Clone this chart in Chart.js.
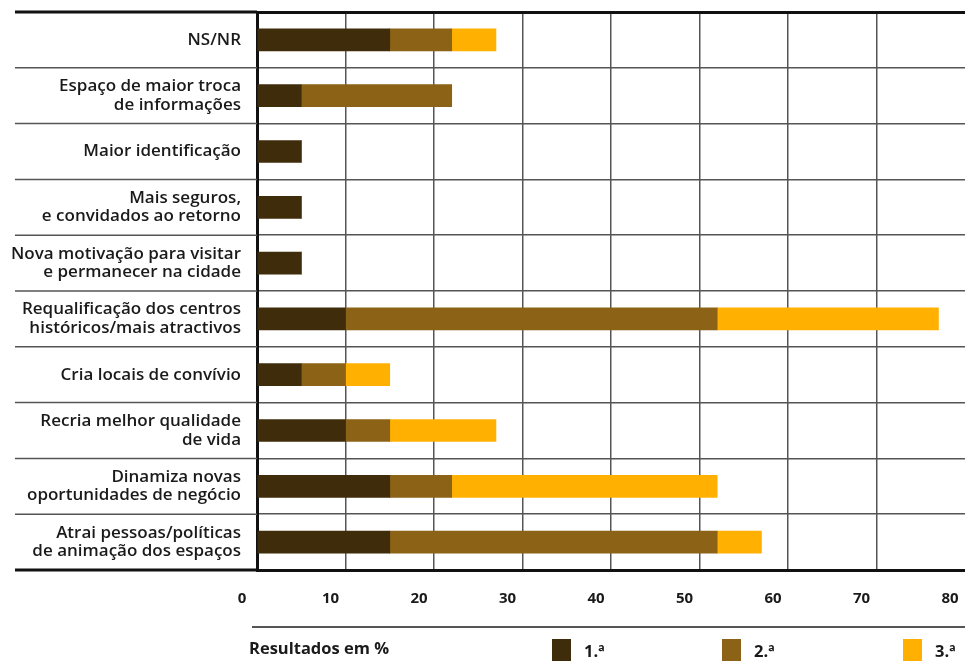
<!DOCTYPE html>
<html>
<head>
<meta charset="utf-8">
<script src="https://cdn.jsdelivr.net/npm/chart.js@4/dist/chart.umd.min.js"></script>
<style>
  html, body { margin: 0; padding: 0; background: #fff; }
  #wrap { position: relative; width: 965px; height: 665px; }
</style>
</head>
<body>
<div id="wrap"><canvas id="resultsChart"></canvas></div>
<script>
const categories = [
    'NS/NR',
    ['Espaço de maior troca', 'de informações'],
    'Maior identificação',
    ['Mais seguros,', 'e convidados ao retorno'],
    ['Nova motivação para visitar', 'e permanecer na cidade'],
    ['Requalificação dos centros', 'históricos/mais atractivos'],
    'Cria locais de convívio',
    ['Recria melhor qualidade', 'de vida'],
    ['Dinamiza novas', 'oportunidades de negócio'],
    ['Atrai pessoas/políticas', 'de animação dos espaços']
];
const primeira = [15, 5, 5, 5, 5, 10, 5, 10, 15, 15];
const segunda  = [7, 17, 0, 0, 0, 42, 5, 5, 7, 37];
const terceira = [5, 0, 0, 0, 0, 25, 5, 12, 30, 5];
const legendLabels = ['1.ª', '2.ª', '3.ª'];
const colors = ['#3f2c0a', '#8c6216', '#ffb000'];

// separators into the label area + custom legend at the bottom
const extrasPlugin = {
    id: 'extras',
    afterDraw(chart) {
        const c = chart.ctx;
        const area = chart.chartArea;
        const y = chart.scales.y;
        const n = categories.length;
        const step = (y.bottom - y.top) / n;
        c.save();
        for (let i = 0; i <= n; i++) {
            const py = y.top + i * step;
            c.beginPath();
            c.strokeStyle = (i === 0 || i === n) ? '#111' : '#555';
            c.lineWidth = (i === 0 || i === n) ? 3 : 1.5;
            c.moveTo(15, py);
            c.lineTo(area.left, py);
            c.stroke();
        }
        // legend
        c.beginPath();
        c.strokeStyle = '#555';
        c.lineWidth = 2;
        c.moveTo(252, 627);
        c.lineTo(965, 627);
        c.stroke();
        c.fillStyle = '#1a1a1a';
        c.font = 'bold 16.5px "Open Sans"';
        c.textBaseline = 'middle';
        c.textAlign = 'left';
        c.fillText('Resultados em %', 249, 649);
        const boxX = [552, 722, 903];
        legendLabels.forEach((lab, i) => {
            c.fillStyle = colors[i];
            c.fillRect(boxX[i], 639, 19, 22);
            c.fillStyle = '#1a1a1a';
            c.fillText(lab, boxX[i] + 32, 652);
        });
        c.restore();
    }
};

const ctx = document.getElementById('resultsChart').getContext('2d');
new Chart(ctx, {
    type: 'bar',
    data: {
        labels: categories,
        datasets: [
            { label: legendLabels[0], data: primeira, backgroundColor: colors[0] },
            { label: legendLabels[1], data: segunda, backgroundColor: colors[1] },
            { label: legendLabels[2], data: terceira, backgroundColor: colors[2] }
        ]
    },
    options: {
        indexAxis: 'y',
        responsive: true,
        maintainAspectRatio: false,
        animation: false,
        layout: { padding: { top: 12, left: 0, right: 0, bottom: 0 } },
        datasets: { bar: { barThickness: 22 } },
        scales: {
            x: {
                stacked: true,
                min: 0,
                max: 80,
                ticks: {
                    stepSize: 10,
                    labelOffset: -15,
                    padding: 20,
                    color: '#1a1a1a',
                    font: { family: 'Open Sans', size: 15, weight: 'bold' }
                },
                grid: {
                    drawTicks: false,
                    lineWidth: 1.5,
                    // the 80 line sits on the page edge and is not printed
                    color: function(context) {
                        return context.tick && context.tick.value === 80 ? 'rgba(0,0,0,0)' : '#555';
                    }
                },
                border: { color: '#111', width: 3 },
                afterFit: function(scale) {
                    scale.height = 95;
                    scale.paddingLeft = 0;
                    scale.paddingRight = 0;
                }
            },
            y: {
                stacked: true,
                ticks: {
                    padding: 16,
                    color: '#1a1a1a',
                    font: { family: 'Open Sans', size: 17, weight: '600', lineHeight: 1.1 }
                },
                grid: {
                    drawTicks: false,
                    color: function(context) {
                        return (context.index === 0 || context.index === categories.length) ? '#111' : '#555';
                    },
                    lineWidth: function(context) {
                        return (context.index === 0 || context.index === categories.length) ? 3 : 1.5;
                    }
                },
                border: { color: '#111', width: 3 },
                afterFit: function(scale) {
                    scale.width = 257;
                    scale.paddingTop = 0;
                    scale.paddingBottom = 0;
                }
            }
        },
        plugins: {
            legend: { display: false },
            tooltip: { enabled: false }
        }
    },
    plugins: [extrasPlugin]
});
</script>
</body>
</html>
